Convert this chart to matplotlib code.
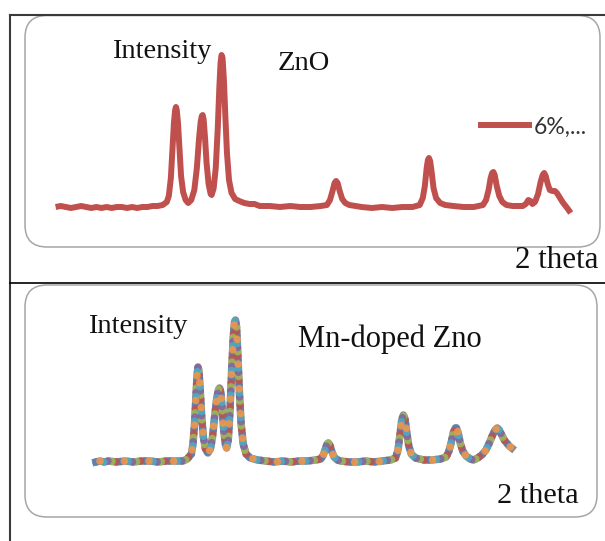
import matplotlib.pyplot as plt
from matplotlib.patches import FancyBboxPatch
from matplotlib.lines import Line2D

W, H = 605, 541

# ZnO pattern (2 theta in degrees, intensity in a.u.)
tth_zno = [20.0, 20.5, 21.0, 21.5, 22.0, 22.5, 23.0, 23.5, 24.0, 24.5, 25.0, 25.5,
           26.0, 26.5, 27.0, 27.5, 28.0, 28.5, 29.0, 29.5, 30.0, 30.5,
           30.9, 31.1, 31.3, 31.45, 31.6, 31.72, 31.8, 31.88, 32.0, 32.15, 32.3, 32.5,
           32.75, 33.0, 33.3, 33.6, 33.85, 34.05, 34.22, 34.33, 34.42, 34.52, 34.65, 34.8,
           35.0, 35.2, 35.3, 35.5, 35.7, 35.9, 36.05, 36.17, 36.27, 36.37, 36.5, 36.65,
           36.8, 37.0, 37.25, 37.6, 38.0, 38.5, 39.0, 39.5, 40.0, 41.0, 42.0, 43.0,
           44.0, 45.0, 46.0, 46.6, 46.9, 47.15, 47.35, 47.5, 47.65, 47.85, 48.1, 48.4,
           48.8, 50.0, 51.0, 52.0, 53.0, 54.0, 55.0, 55.7, 56.0, 56.2, 56.38, 56.5,
           56.6, 56.72, 56.88, 57.05, 57.3, 57.7, 58.2, 59.0, 60.0, 61.0, 61.9, 62.2,
           62.45, 62.65, 62.8, 62.92, 63.05, 63.25, 63.5, 63.8, 64.2, 64.8, 65.4, 65.8,
           66.1, 66.35, 66.55, 66.75, 67.0, 67.3, 67.55, 67.75, 67.9, 68.05, 68.25, 68.45,
           68.7, 68.95, 69.15, 69.4, 69.7, 70.0, 70.3, 70.5]
int_zno = [1, 2, 1, 0, 1, 2, 1, 0, 1, 0, 1, 0,
           1, 1, 0, 1, 0, 1, 1, 2, 2, 3,
           6, 12, 30, 58, 85, 98, 101, 98, 85, 58, 32, 16,
           8, 5, 8, 18, 40, 68, 86, 92, 93, 88, 70, 45,
           24, 14, 13, 20, 40, 80, 120, 145, 153, 150, 128, 90,
           55, 28, 15, 9, 7, 5, 4, 4, 2, 2, 1, 2,
           1, 1, 2, 3, 8, 17, 25, 27, 25, 17, 9, 5,
           3, 1, 0, 1, 0, 1, 1, 3, 10, 22, 40, 48,
           50, 47, 35, 20, 10, 5, 3, 2, 1, 1, 3, 8,
           18, 30, 35, 36, 33, 22, 12, 6, 3, 2, 2, 2,
           4, 8, 7, 4, 6, 14, 26, 33, 35, 32, 24, 18,
           17, 17, 15, 11, 6, 2, -2, -5]

# Mn-doped ZnO pattern
tth_mn = [19.5, 20.0, 20.5, 21.0, 22.0, 23.0, 24.0, 25.0, 26.0, 27.0, 28.0, 29.0,
          30.0, 30.5, 31.0, 31.2, 31.4, 31.55, 31.7, 31.8, 31.9, 32.05, 32.25, 32.45,
          32.7, 33.0, 33.3, 33.55, 33.8, 34.05, 34.25, 34.4, 34.55, 34.7, 34.9, 35.1,
          35.25, 35.45, 35.65, 35.85, 36.05, 36.2, 36.32, 36.45, 36.6, 36.8, 37.0, 37.25,
          37.6, 38.1, 39.0, 40.0, 41.0, 42.0, 43.0, 44.0, 45.0, 46.0, 46.6, 46.9,
          47.15, 47.35, 47.5, 47.7, 47.9, 48.2, 48.6, 49.0, 50.0, 51.0, 52.0, 53.0,
          54.0, 55.0, 55.6, 55.9, 56.15, 56.35, 56.55, 56.75, 56.95, 57.2, 57.5, 58.0,
          59.0, 60.0, 61.0, 61.7, 62.0, 62.3, 62.55, 62.8, 62.95, 63.15, 63.4, 63.7,
          64.1, 64.6, 65.0, 65.5, 66.0, 66.5, 66.9, 67.3, 67.6, 67.85, 68.1, 68.4,
          68.7, 69.0, 69.3, 69.6]
int_mn = [0, 1, 0, 1, 0, 1, 0, 1, 1, 0, 1, 1,
          1, 3, 8, 18, 40, 65, 88, 95, 92, 75, 45, 25,
          13, 9, 13, 25, 45, 63, 72, 74, 70, 55, 32, 18,
          14, 22, 50, 90, 125, 140, 142, 135, 108, 68, 38, 18,
          8, 4, 2, 1, 0, 1, 0, 1, 1, 2, 3, 7,
          13, 18, 19, 17, 11, 5, 2, 1, 0, 0, 1, 0,
          1, 2, 4, 12, 28, 42, 47, 43, 30, 16, 8, 4,
          2, 2, 3, 5, 10, 19, 29, 34, 34, 29, 19, 11,
          6, 3, 2, 4, 7, 12, 19, 27, 32, 34, 32, 27,
          22, 19, 16, 14]

red = '#C0504D'
office = ['#4F81BD', '#C0504D', '#9BBB59', '#8064A2', '#4BACC6', '#F79646']
serif = 'Liberation Serif'


def frac(x0, y0, x1, y1):
    # pixel box (top-left origin) -> figure fraction rect
    return [x0 / W, 1 - y1 / H, (x1 - x0) / W, (y1 - y0) / H]


fig = plt.figure(figsize=(W / 100, H / 100), dpi=100)

# background layer in pixel units for the frame and rounded boxes
bg = fig.add_axes([0, 0, 1, 1], zorder=0)
bg.set_xlim(0, W)
bg.set_ylim(H, 0)
bg.axis('off')
for (x0, y0, x1, y1) in [(25, 15.5, 600, 247), (25, 285, 597, 517)]:
    bg.add_patch(FancyBboxPatch((x0, y0), x1 - x0, y1 - y0,
                                boxstyle='round,pad=0,rounding_size=22',
                                fc='white', ec='#a6a6a6', lw=1.1))
bg.add_line(Line2D([9.5, 9.5], [15, H], color='#3a3a3a', lw=1.5))
bg.add_line(Line2D([9.5, W], [15, 15], color='#3a3a3a', lw=1.5))
bg.add_line(Line2D([9.5, W], [283, 283], color='black', lw=1.2))

# top panel: ZnO
ax1 = fig.add_axes(frac(55.6, 55, 570.7, 213), zorder=2)
ax1.plot(tth_zno, int_zno, color=red, lw=4.3, label='6%,...',
         solid_joinstyle='round', solid_capstyle='butt', clip_on=False)
ax1.set_xlim(20, 70.5)
ax1.set_ylim(-5, 153)
ax1.axis('off')
leg = ax1.legend(loc='center left', bbox_to_anchor=(478 / W, 1 - 127 / H),
                 bbox_transform=fig.transFigure, frameon=False,
                 handlelength=2.35, handletextpad=0.08, borderpad=0,
                 borderaxespad=0, prop={'family': 'Lato', 'size': 16.5})
for t in leg.get_texts():
    t.set_color('#333333')

# bottom panel: Mn-doped ZnO, many overlapping series -> speckled trace
ax2 = fig.add_axes(frac(95.9, 320, 511.7, 464), zorder=2)
ax2.plot(tth_mn, int_mn, color='#8f8a86', lw=5.4, solid_joinstyle='round',
         clip_on=False)
step = 0.55
for k, c in enumerate(office):
    ax2.plot(tth_mn, int_mn, color=c, lw=5.4, alpha=0.85,
             linestyle=(k * step, (0.01, len(office) * step - 0.01)),
             dash_capstyle='round', clip_on=False)
ax2.set_xlim(19.5, 69.6)
ax2.set_ylim(-2, 142)
ax2.axis('off')

# labels
kw = dict(family=serif, color='#111111', va='baseline', zorder=5)
fig.text(112 / W, 1 - 58 / H, 'Intensity', size=20.5, **kw)
fig.text(278 / W, 1 - 70 / H, 'ZnO', size=20.5, **kw)
fig.text(515 / W, 1 - 268 / H, '2 theta', size=22.3, **kw)
fig.text(88 / W, 1 - 333 / H, 'Intensity', size=20.5, **kw)
fig.text(298 / W, 1 - 347 / H, 'Mn-doped Zno', size=22, **kw)
fig.text(497 / W, 1 - 503 / H, '2 theta', size=21.8, **kw)

fig.savefig('out.png', dpi=100)
